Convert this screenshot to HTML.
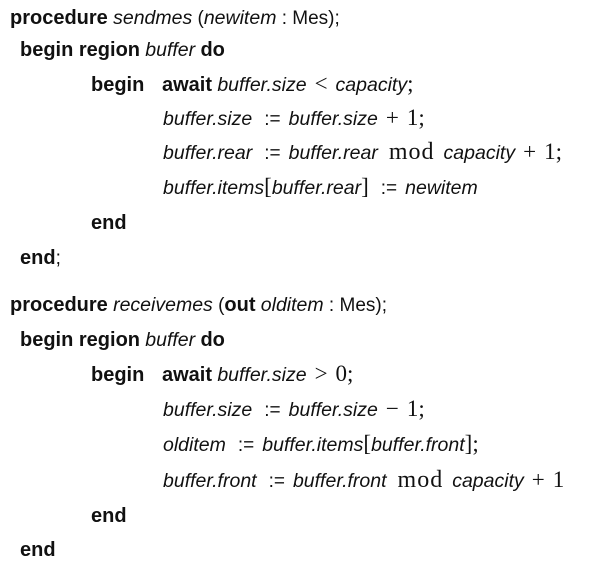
<!DOCTYPE html>
<html><head><meta charset="utf-8"><style>
html,body{margin:0;padding:0;background:#fff;}
body{width:604px;height:573px;position:relative;overflow:hidden;font-family:"Liberation Sans",sans-serif;font-size:19px;color:#111;}
.l{position:absolute;white-space:pre;line-height:24px;}
b{font-weight:bold;font-size:20px;}
i{font-style:italic;font-size:19.5px;}
.m{font-family:"Liberation Serif",serif;font-size:23px;line-height:20px;}
.o{font-family:"Liberation Serif",serif;font-size:23px;margin:0 8px;line-height:20px;}
.d{font-size:24px;letter-spacing:1px;margin:0 9px 0 11px;}
.a{font-family:"Liberation Sans",sans-serif;font-size:19px;margin:0 8px 0 12px;}
</style></head><body>
<div class="l" style="left:10px;top:6px"><b>procedure</b> <i>sendmes</i> (<i>newitem</i> : Mes);</div>
<div class="l" style="left:20px;top:38px"><b>begin region</b> <i>buffer</i> <b>do</b></div>
<div class="l" style="left:91px;top:73px"><b>begin</b></div>
<div class="l" style="left:162px;top:73px"><b>await</b> <i>buffer.size</i><span class="o">&lt;</span><i>capacity</i><span class="m">;</span></div>
<div class="l" style="left:163px;top:107px"><i>buffer.size</i><span class="a">:=</span><i>buffer.size</i><span class="o">+</span><span class="m">1;</span></div>
<div class="l" style="left:163px;top:141px"><i>buffer.rear</i><span class="a">:=</span><i>buffer.rear</i><span class="o d">mod</span><i>capacity</i><span class="o">+</span><span class="m">1;</span></div>
<div class="l" style="left:163px;top:176px"><i>buffer.items</i><span class="m">[</span><i>buffer.rear</i><span class="m">]</span><span class="a">:=</span><i>newitem</i></div>
<div class="l" style="left:91px;top:211px"><b>end</b></div>
<div class="l" style="left:20px;top:246px"><b>end</b>;</div>
<div class="l" style="left:10px;top:293px"><b>procedure</b> <i>receivemes</i> (<b>out</b> <i>olditem</i> : Mes);</div>
<div class="l" style="left:20px;top:328px"><b>begin region</b> <i>buffer</i> <b>do</b></div>
<div class="l" style="left:91px;top:363px"><b>begin</b></div>
<div class="l" style="left:162px;top:363px"><b>await</b> <i>buffer.size</i><span class="o">&gt;</span><span class="m">0;</span></div>
<div class="l" style="left:163px;top:398px"><i>buffer.size</i><span class="a">:=</span><i>buffer.size</i><span class="o">−</span><span class="m">1;</span></div>
<div class="l" style="left:163px;top:433px"><i>olditem</i><span class="a">:=</span><i>buffer.items</i><span class="m">[</span><i>buffer.front</i><span class="m">];</span></div>
<div class="l" style="left:163px;top:469px"><i>buffer.front</i><span class="a">:=</span><i>buffer.front</i><span class="o d">mod</span><i>capacity</i><span class="o">+</span><span class="m">1</span></div>
<div class="l" style="left:91px;top:504px"><b>end</b></div>
<div class="l" style="left:20px;top:538px"><b>end</b></div>
</body></html>
